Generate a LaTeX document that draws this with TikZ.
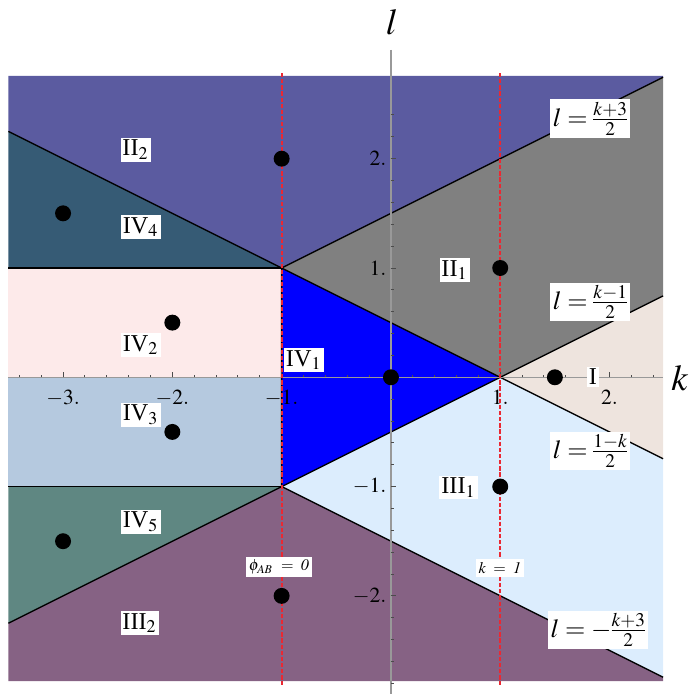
\documentclass[tikz,border=0pt]{standalone}
\usepackage{mathptmx}
\usepackage{fontspec}
\setmainfont{Liberation Serif}
\definecolor{cIItwo}{RGB}{91,91,160}
\definecolor{cIVfour}{RGB}{54,91,117}
\definecolor{cIVtwo}{RGB}{253,234,234}
\definecolor{cIVthree}{RGB}{181,201,223}
\definecolor{cIVfive}{RGB}{95,135,130}
\definecolor{cIIItwo}{RGB}{134,98,132}
\definecolor{cIVone}{RGB}{0,0,255}
\definecolor{cIIone}{RGB}{128,128,128}
\definecolor{cI}{RGB}{238,228,222}
\definecolor{cIIIone}{RGB}{220,237,253}
\definecolor{cred}{RGB}{235,40,50}
\begin{document}
\nulldelimiterspace=0pt\relax
\begin{tikzpicture}[
  bound/.style={black, line width=0.35pt},
  axisline/.style={gray!80, line width=0.3pt},
  tickline/.style={black!70, line width=0.25pt},
  reddash/.style={cred, line width=0.5pt, dash pattern=on 1.1pt off 0.5pt},
  dot/.style={circle, fill=black, inner sep=0pt, minimum size=0.146cm},
  reglab/.style={fill=white, inner sep=0.5pt, font=\fontsize{6.3}{7}\selectfont},
  eqlab/.style={fill=white, inner sep=0.8pt, font=\fontsize{6.8}{8}\selectfont},
  smalllab/.style={fill=white, inner sep=0.8pt, font=\fontsize{4.2}{5}\selectfont},
  ticklab/.style={inner sep=0pt, font=\fontsize{5.6}{6}\selectfont},
  axlab/.style={inner sep=0pt, font=\fontsize{9.5}{11}\selectfont}
]
\useasboundingbox (-3.577,-2.898) rectangle (2.736,3.452);
% regions
\fill[cIItwo] (-3.5,2.757) -- (2.49,2.757) -- (2.49,2.745) -- (-1,1) -- (-3.5,2.25) -- cycle;
\fill[cIVfour] (-3.5,2.25) -- (-1,1) -- (-3.5,1) -- cycle;
\fill[cIVtwo] (-3.5,1) -- (-1,1) -- (-1,0) -- (-3.5,0) -- cycle;
\fill[cIVthree] (-3.5,0) -- (-1,0) -- (-1,-1) -- (-3.5,-1) -- cycle;
\fill[cIVfive] (-3.5,-1) -- (-1,-1) -- (-3.5,-2.25) -- cycle;
\fill[cIIItwo] (-3.5,-2.25) -- (-1,-1) -- (2.49,-2.745) -- (2.49,-2.78) -- (-3.5,-2.78) -- cycle;
\fill[cIVone] (-1,1) -- (1,0) -- (-1,-1) -- cycle;
\fill[cIIone] (-1,1) -- (2.49,2.745) -- (2.49,0.745) -- (1,0) -- cycle;
\fill[cI] (1,0) -- (2.49,0.745) -- (2.49,-0.745) -- cycle;
\fill[cIIIone] (-1,-1) -- (1,0) -- (2.49,-0.745) -- (2.49,-2.745) -- cycle;
% boundaries
\draw[bound] (-3.5,2.25) -- (-1,1) -- (2.49,2.745);
\draw[bound] (-3.5,-2.25) -- (-1,-1) -- (2.49,-2.745);
\draw[bound] (-1,1) -- (1,0) -- (-1,-1) -- cycle;
\draw[bound] (1,0) -- (2.49,0.745);
\draw[bound] (1,0) -- (2.49,-0.745);
\draw[bound] (-3.5,1) -- (-1,1);
\draw[bound] (-3.5,-1) -- (-1,-1);
% axes
\draw[axisline] (-3.5,0) -- (2.49,0);
\draw[axisline] (0,2.995) -- (0,-2.9);
\foreach \i in {-17,...,12} {\draw[tickline] (\i/5,0) -- ++(0,0.025);}
\foreach \i in {-3,...,2} {\draw[tickline] (\i,0) -- ++(0,0.045);}
\foreach \i in {-14,...,12} {\draw[tickline] (0,\i/5) -- ++(0.025,0);}
\foreach \i in {-2,...,2} {\draw[tickline] (0,\i) -- ++(0.045,0);}
% tick labels
\node[ticklab, anchor=north] (tkm3) at (-3,-0.11) {$-3.$};
\node[ticklab, anchor=north] (tkm2) at (-2,-0.11) {$-2.$};
\node[ticklab, anchor=north] (tkm1) at (-1,-0.11) {$-1.$};
\node[ticklab, anchor=north] (tkp1) at (1,-0.11) {$1.$};
\node[ticklab, anchor=north] (tkp2) at (2,-0.11) {$2.$};
\node[ticklab, anchor=east] (tlp2) at (-0.035,2) {$2.$};
\node[ticklab, anchor=east] (tlp1) at (-0.035,1) {$1.$};
\node[ticklab, anchor=east] (tlm1) at (-0.035,-1) {$-1.$};
\node[ticklab, anchor=east] (tlm2) at (-0.035,-2) {$-2.$};
% red dashed lines
\coordinate (ra) at (-1,2.784);
\coordinate (rb) at (-1,-2.813);
\coordinate (rc) at (1,2.784);
\coordinate (rd) at (1,-2.813);
\draw[reddash] (ra) -- (rb);
\draw[reddash] (rc) -- (rd);
% dots
\node[dot] (d1) at (-1,2) {};
\node[dot] (d2) at (-3,1.5) {};
\node[dot] (d3) at (1,1) {};
\node[dot] (d4) at (-2,0.5) {};
\node[dot] (d5) at (0,0) {};
\node[dot] (d6) at (1.5,0) {};
\node[dot] (d7) at (-2,-0.5) {};
\node[dot] (d8) at (1,-1) {};
\node[dot] (d9) at (-3,-1.5) {};
\node[dot] (d10) at (-1,-2) {};
% region labels
\node[reglab] (IItwo) at (-2.333,2.081) {II$_2$};
\node[reglab] (IVfour) at (-2.287,1.375) {IV$_4$};
\node[reglab] (IVtwo) at (-2.287,0.296) {IV$_2$};
\node[reglab] (IVthree) at (-2.287,-0.345) {IV$_3$};
\node[reglab] (IVfive) at (-2.287,-1.324) {IV$_5$};
\node[reglab] (IIItwo) at (-2.296,-2.248) {III$_2$};
\node[reglab, anchor=west] (IVone) at (-0.985,0.158) {IV$_1$};
\node[reglab] (IIone) at (0.586,0.982) {II$_1$};
\node[reglab] (Ione) at (1.848,0.003) {I};
\node[reglab] (IIIone) at (0.622,-1.010) {III$_1$};
% equation labels
\node[eqlab] (e1) at (1.821,2.365) {$l = \frac{k+3}{2}$};
\node[eqlab] (e2) at (1.821,0.689) {$l = \frac{k-1}{2}$};
\node[eqlab] (e3) at (1.821,-0.674) {$l = \frac{1-k}{2}$};
\node[eqlab] (e4) at (1.894,-2.312) {$l = -\frac{k+3}{2}$};
\node[smalllab] (phi) at (-1.025,-1.736) {$\phi_{AB}\;=\;\mathit{0}$};
\node[smalllab] (kone) at (0.997,-1.745) {$k\;=\;\mathit{1}$};
% axis labels
\node[axlab] (klab) at (2.644,-0.006) {$k$};
\node[axlab] (llab) at (0.009,3.25) {$l$};
\end{tikzpicture}
\end{document}
